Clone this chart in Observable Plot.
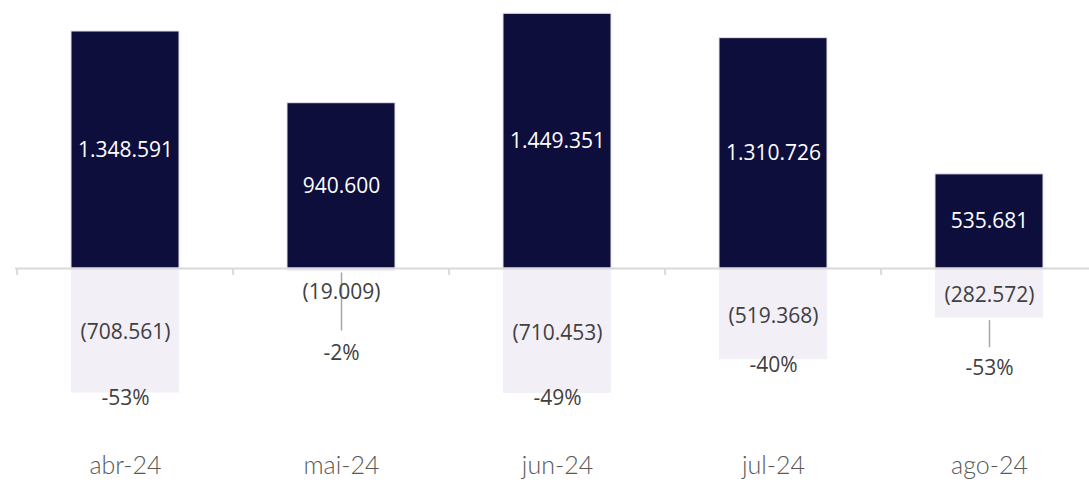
<!DOCTYPE html>
<html>
<head>
<meta charset="utf-8">
<script src="https://cdn.jsdelivr.net/npm/d3@7"></script>
<script src="https://cdn.jsdelivr.net/npm/@observablehq/plot@0.6"></script>
<style>
  html, body { margin: 0; padding: 0; background: #ffffff; }
  #chart svg { display: block; }
</style>
</head>
<body>
<div id="chart"></div>
<script>
// ---- data ----
const months = ["abr-24", "mai-24", "jun-24", "jul-24", "ago-24"];
const positives = [1348591, 940600, 1449351, 1310726, 535681];
const negatives = [-708561, -19009, -710453, -519368, -282572];
const pctLabels = ["-53%", "-2%", "-49%", "-40%", "-53%"];

// ---- layout (not data) ----
const W = 1089, H = 489;
const xRange = [15, 1098];
const yDomain = [-1000000, 1500000];
const yRange = [443.74, 4.39];
const pxPerUnit = (yRange[0] - yRange[1]) / (yDomain[1] - yDomain[0]);
const px = p => p / pxPerUnit;              // pixels -> data units
const halfStep = (xRange[1] - xRange[0]) / months.length / 2;

const rows = months.map((m, i) => ({
  month: m, pos: positives[i], neg: negatives[i], pct: pctLabels[i]
}));

const fmt = d3.formatLocale({decimal: ",", thousands: ".", grouping: [3], currency: ["R$", ""]}).format(",d");

// labels with a leader line placed outside the bar
const smallBar = new Set(["mai-24"]);      // negative value label pushed below axis
const pctOutside = new Set(["ago-24"]);    // percentage pushed below bar

const valueFont = "'Open Sans', 'Noto Sans', sans-serif";
const labelGray = "#404040";
const fs = 21;

const inRows = rows.filter(d => !smallBar.has(d.month) && !pctOutside.has(d.month));

const chart = Plot.plot({
  width: W,
  height: H,
  marginLeft: 15,
  marginRight: 0,
  marginTop: 0,
  marginBottom: 0,
  style: {background: "#ffffff", fontFamily: valueFont},
  x: {domain: months, range: xRange, paddingInner: 0.5, paddingOuter: 0.25, axis: null},
  y: {domain: yDomain, range: yRange, axis: null},
  marks: [
    // negative (light) bars
    Plot.barY(rows, {x: "month", y: "neg", fill: "#f2eff7"}),
    // positive (dark) bars
    Plot.barY(rows, {x: "month", y: "pos", fill: "#0d0e3c", stroke: "#e4e2ee", strokeWidth: 1}),
    // axis baseline
    Plot.ruleY([0], {stroke: "#d9d9d9", strokeWidth: 2}),
    // tick marks at band boundaries
    Plot.ruleX(months, {x: d => d, dx: -halfStep, y1: 0, y2: -px(7), stroke: "#d9d9d9", strokeWidth: 2}),

    // positive value labels (centered in bar)
    Plot.text(rows, {x: "month", y: d => d.pos / 2, text: d => fmt(d.pos), fill: "#ffffff",
      fontSize: fs, fontFamily: valueFont}),

    // negative value labels
    Plot.text(rows.filter(d => !smallBar.has(d.month)), {x: "month", y: d => d.neg / 2, dy: 2,
      text: d => "(" + fmt(-d.neg) + ")", fill: labelGray, fontSize: fs, fontFamily: valueFont}),
    Plot.link(rows.filter(d => smallBar.has(d.month)), {x1: "month", x2: "month",
      y1: -px(4), y2: -px(62), stroke: "#a6a6a6", strokeWidth: 1.5}),
    Plot.text(rows.filter(d => smallBar.has(d.month)), {x: "month", y: 0, dy: 24,
      text: d => "(" + fmt(-d.neg) + ")", fill: labelGray, fontSize: fs, fontFamily: valueFont}),

    // percentage labels
    Plot.text(inRows, {x: "month", y: "neg", dy: 5, text: "pct", fill: labelGray,
      fontSize: fs, fontFamily: valueFont}),
    Plot.text(rows.filter(d => smallBar.has(d.month)), {x: "month", y: 0, dy: 85, text: "pct",
      fill: labelGray, fontSize: fs, fontFamily: valueFont}),
    Plot.link(rows.filter(d => pctOutside.has(d.month)), {x1: "month", x2: "month",
      y1: d => d.neg - px(2), y2: d => d.neg - px(29), stroke: "#a6a6a6", strokeWidth: 1.5}),
    Plot.text(rows.filter(d => pctOutside.has(d.month)), {x: "month", y: "neg", dy: 50, text: "pct",
      fill: labelGray, fontSize: fs, fontFamily: valueFont}),

    // category labels along the bottom
    Plot.text(months, {x: d => d, frameAnchor: "bottom", dy: -16, text: d => d,
      fill: "#595959", fontSize: 25, fontFamily: "Lato, 'DejaVu Sans', sans-serif", fontWeight: 300})
  ]
});

document.getElementById("chart").appendChild(chart);
</script>
</body>
</html>
